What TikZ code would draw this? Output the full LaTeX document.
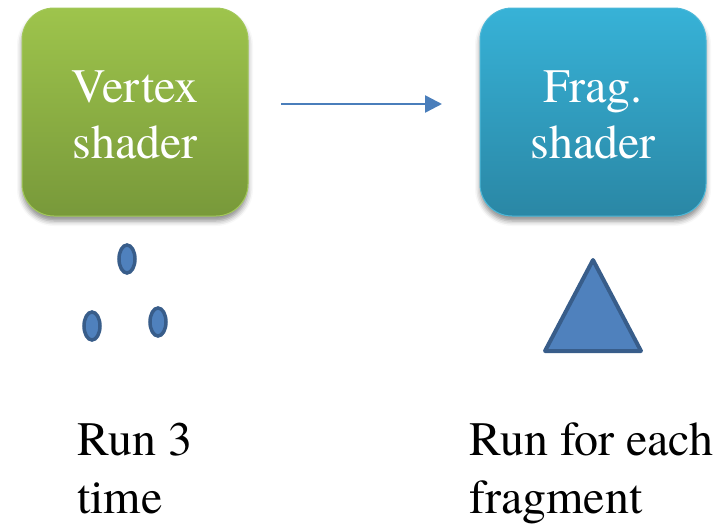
\documentclass[tikz,border=0pt]{standalone}
\usepackage{fontspec}
\setmainfont{texgyretermes}[Extension=.otf, UprightFont=*-regular, BoldFont=*-bold]
\usetikzlibrary{arrows.meta,shadows.blur,shapes.geometric}
\definecolor{greentop}{HTML}{9EC44C}
\definecolor{greenbot}{HTML}{78993A}
\definecolor{greenrim}{HTML}{A2C85A}
\definecolor{bluetop}{HTML}{37B2D7}
\definecolor{bluebot}{HTML}{2A87A5}
\definecolor{bluerim}{HTML}{4DB8D8}
\definecolor{accent}{HTML}{4F81BD}
\definecolor{accentdark}{HTML}{385D8A}
\definecolor{arrowblue}{HTML}{4A7EBB}
\tikzset{
  x=1pt, y=-1pt,
  % the text box is given a fixed height so the last baseline sits 46pt below the centre
  shaderbox/.style={rounded corners=32pt, minimum width=226pt, minimum height=208pt,
    inner sep=0pt, align=center, text=white, text height=92pt, text depth=0pt,
    font=\fontsize{48pt}{56pt}\selectfont, line width=1pt,
    blur shadow={shadow xshift=0pt, shadow yshift=-5pt, shadow blur radius=5pt, shadow opacity=45}},
  vertexcall/.style={ellipse, minimum width=16pt, minimum height=28pt, inner sep=0pt,
    draw=accentdark, fill=accent, line width=3.5pt},
  caption/.style={anchor=base west, align=left, inner sep=0pt,
    font=\fontsize{48pt}{58pt}\selectfont},
  flow/.style={draw=arrowblue, line width=2.5pt, -{Triangle[length=17pt,width=17pt]}}
}
\begin{document}
\begin{tikzpicture}
\useasboundingbox (0,0) rectangle (724,525);
% the two pipeline stages
\node[shaderbox, draw=greenrim, top color=greentop, bottom color=greenbot]
  (vs) at (135,112) {Vertex\\shader};
\node[shaderbox, draw=bluerim, top color=bluetop, bottom color=bluebot]
  (fs) at (593,112) {Frag.\\shader};
% data flow between the stages
\coordinate (a0) at (281,104);
\coordinate (a1) at (442,104);
\draw[flow] (a0) -- (a1);
% three vertices
\node[vertexcall] (v1) at (127,259) {};
\node[vertexcall] (v2) at (92,326) {};
\node[vertexcall] (v3) at (158,322) {};
% one rasterised triangle
\coordinate (t1) at (593,260);
\coordinate (t2) at (545,351);
\coordinate (t3) at (641,351);
\filldraw[draw=accentdark, fill=accent, line width=4pt, line join=round] (t1) -- (t2) -- (t3) -- cycle;
% captions (base anchor sits on the last line)
\node[caption] (c1) at (77,513) {Run 3\\time};
\node[caption] (c2) at (469,513) {Run for each\\fragment};
\end{tikzpicture}
\end{document}
